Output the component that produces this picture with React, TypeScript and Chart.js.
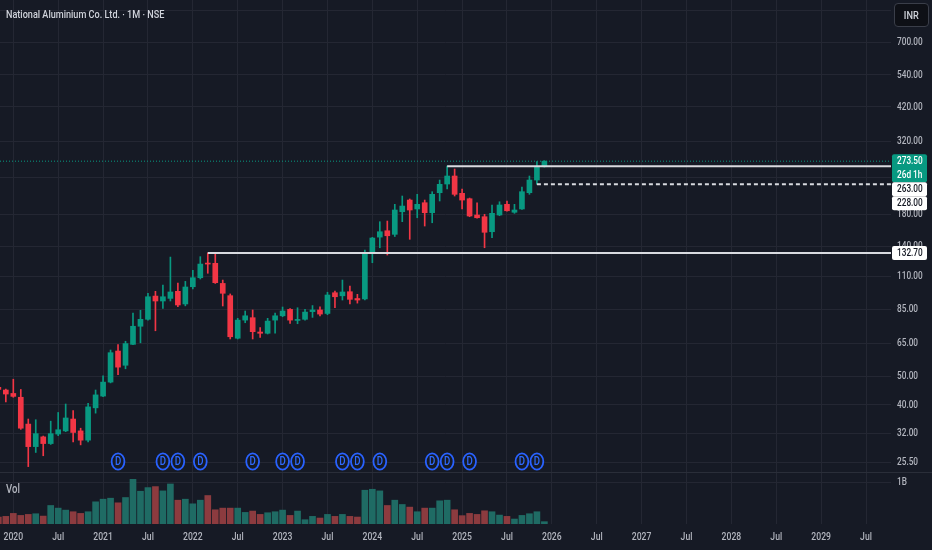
import React, { useEffect, useRef } from 'react';
import { Chart, registerables } from 'chart.js';

Chart.register(...registerables);

// ---------- data ----------
const months: string[] = [
  '2019-11', '2019-12',
  '2020-01', '2020-02', '2020-03', '2020-04', '2020-05', '2020-06', '2020-07', '2020-08', '2020-09', '2020-10', '2020-11', '2020-12',
  '2021-01', '2021-02', '2021-03', '2021-04', '2021-05', '2021-06', '2021-07', '2021-08', '2021-09', '2021-10', '2021-11', '2021-12',
  '2022-01', '2022-02', '2022-03', '2022-04', '2022-05', '2022-06', '2022-07', '2022-08', '2022-09', '2022-10', '2022-11', '2022-12',
  '2023-01', '2023-02', '2023-03', '2023-04', '2023-05', '2023-06', '2023-07', '2023-08', '2023-09', '2023-10', '2023-11', '2023-12',
  '2024-01', '2024-02', '2024-03', '2024-04', '2024-05', '2024-06', '2024-07', '2024-08', '2024-09', '2024-10', '2024-11', '2024-12',
  '2025-01', '2025-02', '2025-03', '2025-04', '2025-05', '2025-06', '2025-07', '2025-08', '2025-09', '2025-10', '2025-11', '2025-12',
];

const open: number[] = [
  46.0, 45.0,
  43.8, 42.5, 34.4, 28.8, 31.1, 29.5, 31.8, 32.6, 35.8, 32.6, 30.3, 39.1,
  42.9, 47.9, 61.2, 54.7, 64.5, 74.4, 78.6, 94.4, 90.8, 92.7, 98.0, 88.7,
  101.6, 109.1, 122.2, 122.2, 104.3, 94.7, 67.7, 78.1, 79.6, 71.1, 70.4, 78.1,
  80.8, 85.0, 77.9, 78.6, 83.5, 84.6, 82.3, 96.9, 94.6, 97.7, 92.6, 92.3,
  132.6, 150.3, 158.0, 153.6, 183.6, 201.3, 187.6, 197.1, 182.2, 213.3, 228.4, 243.3,
  212.3, 203.4, 178.9, 176.5, 156.8, 178.9, 194.6, 182.8, 187.6, 213.3, 235.7, 261.8,
];

const high: number[] = [
  47.5, 45.3,
  49.0, 45.2, 35.8, 35.6, 31.3, 35.2, 37.7, 40.3, 38.3, 33.3, 40.5, 45.0,
  50.3, 61.7, 64.4, 66.1, 82.6, 84.4, 96.5, 98.0, 103.0, 128.4, 104.6, 106.0,
  115.6, 128.8, 132.7, 132.5, 107.1, 96.0, 79.2, 83.9, 84.6, 73.6, 79.2, 82.6,
  86.6, 85.5, 86.1, 85.0, 87.6, 86.8, 97.3, 98.2, 107.1, 102.2, 95.7, 135.7,
  150.0, 169.7, 170.6, 194.6, 207.8, 203.0, 210.6, 201.3, 215.0, 235.7, 263.0, 257.1,
  219.6, 204.5, 197.1, 179.9, 193.6, 198.6, 199.8, 194.6, 223.1, 243.3, 272.4, 274.6,
];

const low: number[] = [
  44.8, 41.0,
  42.5, 33.0, 24.6, 27.5, 26.8, 29.3, 31.4, 32.4, 29.9, 29.2, 29.9, 37.5,
  42.7, 47.6, 50.8, 53.2, 64.3, 65.3, 78.0, 71.8, 85.7, 90.8, 86.8, 87.4,
  99.8, 108.0, 113.0, 104.3, 87.3, 67.3, 67.3, 76.5, 67.3, 68.2, 70.0, 70.4,
  80.2, 76.1, 75.9, 78.1, 79.8, 80.8, 81.5, 86.1, 91.5, 88.7, 89.3, 91.5,
  122.8, 138.2, 130.5, 151.0, 169.7, 147.7, 175.1, 164.0, 168.3, 199.8, 219.6, 207.8,
  187.6, 176.5, 174.5, 138.2, 149.5, 177.9, 184.3, 181.3, 187.0, 210.6, 228.0, 261.0,
];

const close: number[] = [
  45.2, 43.6,
  42.8, 33.3, 28.8, 31.9, 29.5, 31.9, 32.9, 36.1, 32.2, 30.3, 39.4, 43.3,
  47.9, 60.4, 53.9, 64.9, 74.4, 78.6, 93.9, 90.8, 93.9, 97.5, 88.0, 101.4,
  109.1, 121.5, 121.5, 104.9, 96.5, 68.5, 78.1, 80.8, 71.3, 70.4, 77.5, 80.8,
  83.9, 78.1, 78.5, 83.2, 84.6, 81.9, 95.2, 93.9, 97.5, 92.0, 91.5, 132.6,
  149.2, 156.8, 151.9, 186.1, 192.0, 186.1, 194.6, 182.2, 210.6, 227.9, 243.3, 210.6,
  201.3, 177.5, 175.1, 156.1, 181.3, 193.6, 185.0, 186.1, 215.0, 235.7, 260.6, 273.5,
];

// volume in millions of shares
const volumeM: number[] = [
  167, 183,
  254, 206, 230, 246, 190, 444, 381, 333, 294, 254, 294, 532,
  595, 619, 508, 635, 1071, 786, 873, 897, 794, 960, 571, 595,
  484, 571, 683, 341, 381, 381, 381, 278, 310, 230, 270, 294,
  333, 206, 310, 103, 183, 143, 230, 183, 230, 183, 167, 810,
  833, 794, 444, 571, 468, 405, 294, 381, 381, 556, 571, 341,
  200, 254, 230, 317, 294, 214, 183, 119, 206, 246, 294, 56,
];

const timeTickMonths: string[] = [
  '2020-01', '2020-07', '2021-01', '2021-07', '2022-01', '2022-07', '2023-01', '2023-07', '2024-01', '2024-07',
  '2025-01', '2025-07', '2026-01', '2026-07', '2027-01', '2027-07', '2028-01', '2028-07', '2029-01', '2029-07',
];
const timeTickLabels: string[] = [
  '2020', 'Jul', '2021', 'Jul', '2022', 'Jul', '2023', 'Jul', '2024', 'Jul',
  '2025', 'Jul', '2026', 'Jul', '2027', 'Jul', '2028', 'Jul', '2029', 'Jul',
];

const priceTicks: number[] = [900, 700, 540, 420, 320, 240, 180, 140, 110, 85, 65, 50, 40, 32, 25.5];
const volumeTicks: number[] = [1000];
const volumeTickLabels: string[] = ['1B'];

const dividendMonths: string[] = [
  '2021-03', '2021-09', '2021-11', '2022-02', '2022-09', '2023-01', '2023-03', '2023-09',
  '2023-11', '2024-02', '2024-09', '2024-11', '2025-02', '2025-09', '2025-11',
];

const levelStart: string[] = ['2024-11', '2025-11', '2022-03'];
const levelValue: number[] = [263, 228, 132.7];
const levelDashed: boolean[] = [false, true, false];

const countdownText = '26d 1h';
const titleText = 'National Aluminium Co. Ltd. · 1M · NSE';

// ---------- style ----------
const BG = '#161a25';
const GRID = '#242733';
const UP = '#089981';
const DOWN = '#f23645';
const VOL_UP = '#1f6b64';
const VOL_DOWN = '#8c3b3f';
const TEXT = '#b2b5be';
const LEVEL = '#d8dadf';
const SQ = 0.8;
const SQ_AXIS = 0.75;
const FONT = 'Roboto, "Liberation Sans", sans-serif';

const X_MIN = -1.78;
const X_MAX = 117.34;
const Y_MAX = 974.9;
const Y_MIN = 23.39;
const VOL_MAX = 1223;
const AXIS_W = 41;

const monthToIndex = (m: string) => {
  const [y, mo] = m.split('-').map(Number);
  return (y - 2020) * 12 + (mo - 1);
};

function sqText(
  ctx: CanvasRenderingContext2D,
  text: string,
  x: number,
  y: number,
  align: CanvasTextAlign,
  size: number,
  color: string,
  weight = '500',
  squash = SQ_AXIS,
) {
  ctx.save();
  ctx.font = `${weight} ${size}px ${FONT}`;
  ctx.fillStyle = color;
  ctx.textBaseline = 'middle';
  ctx.textAlign = align;
  ctx.translate(x, y);
  ctx.scale(squash, 1);
  ctx.fillText(text, 0, 0);
  ctx.restore();
}

export default function App() {
  const priceRef = useRef<HTMLCanvasElement>(null);
  const volRef = useRef<HTMLCanvasElement>(null);

  useEffect(() => {
    const xs = months.map(monthToIndex);
    const isUp = (k: number) => close[k] >= open[k];
    const lastClose = close[close.length - 1];

    const xScale = (h: number): any => ({
      type: 'linear',
      min: X_MIN,
      max: X_MAX,
      offset: false,
      grid: { color: GRID, offset: false, drawTicks: false, lineWidth: 1 },
      border: { display: false },
      ticks: { display: false },
      afterBuildTicks: (s: any) => {
        s.ticks = timeTickMonths.map((m) => ({ value: monthToIndex(m) }));
      },
      afterFit: (s: any) => {
        s.height = h;
      },
    });

    const levelSets = levelValue.map((v, j) => ({
      type: 'line' as const,
      data: [
        { x: monthToIndex(levelStart[j]), y: v },
        { x: X_MAX, y: v },
      ],
      borderColor: LEVEL,
      borderWidth: 2,
      borderDash: levelDashed[j] ? [4, 3] : [],
      pointRadius: 0,
      order: 1,
    }));

    const pricePlugin = {
      id: 'pricePlugin',
      afterDatasetsDraw(chart: any) {
        const ctx: CanvasRenderingContext2D = chart.ctx;
        const xS = chart.scales.x;
        const area = chart.chartArea;
        for (const m of dividendMonths) {
          const x = xS.getPixelForValue(monthToIndex(m));
          const y = area.bottom - 11.5;
          ctx.save();
          ctx.beginPath();
          ctx.ellipse(x, y, 6.4, 8.1, 0, 0, Math.PI * 2);
          ctx.fillStyle = BG;
          ctx.fill();
          ctx.lineWidth = 1.8;
          ctx.strokeStyle = '#2962ff';
          ctx.stroke();
          ctx.restore();
          sqText(ctx, 'D', x, y + 0.5, 'center', 12, '#2f6bff', '500', SQ);
        }
      },
      afterDraw(chart: any) {
        const ctx: CanvasRenderingContext2D = chart.ctx;
        const yS = chart.scales.y;
        const area = chart.chartArea;
        const lx = area.right + 6;
        for (const v of priceTicks) {
          sqText(ctx, v.toFixed(2), lx, yS.getPixelForValue(v), 'left', 11, TEXT);
        }
        const LH = 14;
        const items = [
          { value: lastClose, lines: [lastClose.toFixed(2), countdownText], bg: UP, fg: '#ffffff' },
          ...levelValue.map((v) => ({ value: v, lines: [v.toFixed(2)], bg: '#ffffff', fg: '#131722' })),
        ]
          .map((it) => ({ ...it, y: yS.getPixelForValue(it.value) }))
          .sort((a, b) => a.y - b.y);
        let cursor = -Infinity;
        for (const it of items) {
          const h = it.lines.length * LH;
          let top = it.y - LH / 2;
          if (top < cursor) top = cursor;
          cursor = top + h;
          ctx.save();
          ctx.fillStyle = it.bg;
          ctx.beginPath();
          (ctx as any).roundRect(area.right + 1, top, 35, h, 2);
          ctx.fill();
          ctx.restore();
          it.lines.forEach((t, j) => {
            sqText(ctx, t, lx, top + LH * (j + 0.5), 'left', 11, it.fg);
          });
        }
      },
    };

    const colorFor = (c: any) => (isUp(c.dataIndex) ? UP : DOWN);

    const priceChart = new Chart(priceRef.current as HTMLCanvasElement, {
      type: 'bar',
      data: {
        datasets: [
          {
            type: 'line',
            data: [
              { x: X_MIN, y: lastClose },
              { x: X_MAX, y: lastClose },
            ],
            borderColor: UP,
            borderWidth: 1,
            borderDash: [1, 2],
            pointRadius: 0,
            order: 0,
          } as any,
          ...(levelSets as any[]),
          {
            type: 'bar',
            data: xs.map((x, k) => ({ x, y: [low[k], high[k]] })),
            backgroundColor: colorFor,
            barThickness: 1,
            grouped: false,
            order: 3,
          } as any,
          {
            type: 'bar',
            data: xs.map((x, k) => ({ x, y: [open[k], close[k]] })),
            backgroundColor: colorFor,
            barThickness: 5,
            minBarLength: 1,
            grouped: false,
            order: 2,
          } as any,
        ],
      },
      options: {
        responsive: false,
        maintainAspectRatio: false,
        animation: false,
        events: [],
        layout: { padding: 0 },
        plugins: { legend: { display: false }, tooltip: { enabled: false } },
        scales: {
          x: xScale(0),
          y: {
            type: 'logarithmic',
            position: 'right',
            min: Y_MIN,
            max: Y_MAX,
            grid: { color: GRID, drawTicks: false },
            border: { display: false },
            ticks: { display: false },
            afterBuildTicks: (s: any) => {
              s.ticks = priceTicks.map((v) => ({ value: v }));
            },
            afterFit: (s: any) => {
              s.width = AXIS_W;
            },
          } as any,
        },
      },
      plugins: [pricePlugin],
    });

    const volPlugin = {
      id: 'volPlugin',
      afterDraw(chart: any) {
        const ctx: CanvasRenderingContext2D = chart.ctx;
        const xS = chart.scales.x;
        const yS = chart.scales.y;
        const area = chart.chartArea;
        timeTickMonths.forEach((m, j) => {
          sqText(ctx, timeTickLabels[j], xS.getPixelForValue(monthToIndex(m)), area.bottom + 13, 'center', 11.5, TEXT);
        });
        volumeTicks.forEach((v, j) => {
          sqText(ctx, volumeTickLabels[j], area.right + 6, yS.getPixelForValue(v), 'left', 11, TEXT);
        });
      },
    };

    const volChart = new Chart(volRef.current as HTMLCanvasElement, {
      type: 'bar',
      data: {
        datasets: [
          {
            data: xs.map((x, k) => ({ x, y: volumeM[k] })),
            backgroundColor: (c: any) => (isUp(c.dataIndex) ? VOL_UP : VOL_DOWN),
            barThickness: 6,
            grouped: false,
          } as any,
        ],
      },
      options: {
        responsive: false,
        maintainAspectRatio: false,
        animation: false,
        events: [],
        layout: { padding: 0 },
        plugins: { legend: { display: false }, tooltip: { enabled: false } },
        scales: {
          x: xScale(26),
          y: {
            type: 'linear',
            position: 'right',
            min: 0,
            max: VOL_MAX,
            grid: { color: GRID, drawTicks: false },
            border: { display: false },
            ticks: { display: false },
            afterBuildTicks: (s: any) => {
              s.ticks = volumeTicks.map((v) => ({ value: v }));
            },
            afterFit: (s: any) => {
              s.width = AXIS_W;
            },
          } as any,
        },
      },
      plugins: [volPlugin],
    });

    return () => {
      priceChart.destroy();
      volChart.destroy();
    };
  }, []);

  const sq = (origin: string, f = SQ): React.CSSProperties => ({
    display: 'inline-block',
    transform: `scaleX(${f})`,
    transformOrigin: origin,
    whiteSpace: 'nowrap',
  });

  return (
    <div
      style={{
        position: 'fixed',
        left: 0,
        top: 0,
        width: 932,
        height: 550,
        background: BG,
        overflow: 'hidden',
        fontFamily: FONT,
        fontWeight: 500,
      }}
    >
      <canvas
        ref={priceRef}
        width={932}
        height={473}
        style={{ position: 'absolute', left: 0, top: 0, width: 932, height: 473, display: 'block' }}
      />
      <canvas
        ref={volRef}
        width={932}
        height={77}
        style={{ position: 'absolute', left: 0, top: 473, width: 932, height: 77, display: 'block' }}
      />
      <div style={{ position: 'absolute', left: 0, top: 472, width: 932, height: 1, background: '#2a2e39' }} />
      <div
        style={{
          position: 'absolute',
          left: 6,
          top: 7,
          height: 15,
          lineHeight: '15px',
          fontSize: 11.5,
          color: '#d1d4dc',
        }}
      >
        <span style={sq('left center', 0.79)}>{titleText}</span>
      </div>
      <div
        style={{
          position: 'absolute',
          left: 6,
          top: 482,
          height: 14,
          lineHeight: '14px',
          fontSize: 12,
          color: TEXT,
        }}
      >
        <span style={sq('left center')}>Vol</span>
      </div>
      <div
        style={{
          position: 'absolute',
          left: 894,
          top: 3,
          width: 35,
          height: 24,
          boxSizing: 'border-box',
          border: '1px solid #3a3e49',
          borderRadius: 4,
          background: '#0e1016',
          color: '#d1d4dc',
          fontSize: 11.5,
          lineHeight: '22px',
          textAlign: 'center',
        }}
      >
        <span style={sq('center center')}>INR</span>
      </div>
    </div>
  );
}
